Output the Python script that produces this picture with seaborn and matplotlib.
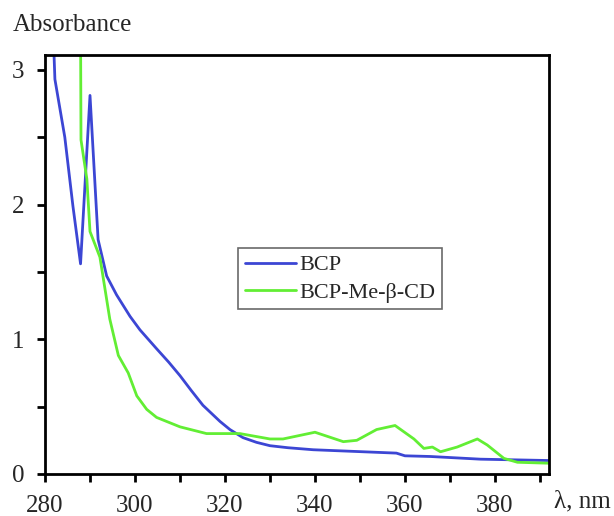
import matplotlib
matplotlib.use("Agg")
import matplotlib.pyplot as plt
import seaborn as sns
import pandas as pd
from matplotlib.ticker import MultipleLocator

# Data
bcp_wl = [281.8, 282.2, 284.4, 286.2, 287.9, 290.0, 291.8, 293.7, 295.9, 298.9,
          301.1, 304.8, 307.5, 310.0, 312.5, 315.1, 318.9, 321.1, 324.0, 327.0,
          330.0, 334.0, 339.6, 350.7, 358.1, 360.0, 365.6, 376.8, 392.0]
bcp_abs = [3.30, 2.93, 2.50, 1.99, 1.56, 2.81, 1.74, 1.47, 1.33, 1.17,
           1.07, 0.93, 0.83, 0.73, 0.62, 0.51, 0.39, 0.33, 0.27, 0.235,
           0.21, 0.195, 0.18, 0.165, 0.155, 0.135, 0.13, 0.11, 0.10]

cd_wl = [287.9, 288.0, 289.3, 290.0, 292.2, 294.4, 296.3, 298.5, 300.4, 302.6,
         304.8, 310.0, 315.9, 321.1, 323.3, 330.0, 332.9, 340.0, 346.3, 349.3,
         353.7, 357.8, 362.0, 364.2, 366.1, 367.9, 371.6, 376.1, 378.3, 382.0,
         385.0, 392.0]
cd_abs = [3.30, 2.48, 2.19, 1.80, 1.61, 1.15, 0.88, 0.75, 0.58, 0.48,
          0.42, 0.35, 0.30, 0.30, 0.30, 0.26, 0.26, 0.31, 0.24, 0.25,
          0.33, 0.36, 0.26, 0.19, 0.20, 0.165, 0.20, 0.26, 0.215, 0.116,
          0.087, 0.08]

series_names = ["BCP", "BCP-Me-β-CD"]
colors = {"BCP": "#3c46d4", "BCP-Me-β-CD": "#62ee34"}

df = pd.concat([
    pd.DataFrame({"wl": bcp_wl, "A": bcp_abs, "s": series_names[0]}),
    pd.DataFrame({"wl": cd_wl, "A": cd_abs, "s": series_names[1]}),
], ignore_index=True)

sns.set_style("ticks")
plt.rcParams["font.family"] = ["Liberation Serif", "DejaVu Serif"]

fig = plt.figure(figsize=(6.14, 5.16), dpi=100)
ax = fig.add_axes([0.0733, 0.0814, 0.8207, 0.812])

sns.lineplot(data=df, x="wl", y="A", hue="s", palette=colors, estimator=None,
             sort=False, linewidth=2.0, ax=ax, hue_order=series_names)

ax.set_xlim(280, 392)
ax.set_ylim(0, 3.11)
ax.xaxis.set_major_locator(MultipleLocator(20))
ax.xaxis.set_minor_locator(MultipleLocator(10))
ax.yaxis.set_major_locator(MultipleLocator(1))
ax.yaxis.set_minor_locator(MultipleLocator(0.5))
ax.tick_params(axis="both", which="both", direction="out", length=6, width=2,
               color="black", labelsize=18)
ax.tick_params(axis="x", which="major", pad=9)
ax.tick_params(axis="y", which="major", pad=9)
ax.set_xlabel("")
ax.set_ylabel("")
for sp in ax.spines.values():
    sp.set_visible(True)
    sp.set_linewidth(2)
    sp.set_color("black")

fig.text(0.021, 0.952, "Absorbance", fontsize=18, ha="left", va="center")
fig.text(0.903, 0.028, "λ, nm", fontsize=18, ha="left", va="center")

leg = ax.legend(loc="upper left", bbox_to_anchor=(0.383, 0.539), fontsize=16,
                frameon=True, fancybox=False, handlelength=2.3, handletextpad=0.15,
                borderpad=0.3, labelspacing=0.3, borderaxespad=0)
leg.get_frame().set_edgecolor("#444444")
leg.get_frame().set_linewidth(1.2)
for line in leg.get_lines():
    line.set_linewidth(2.0)

fig.savefig("out.png", dpi=100)
